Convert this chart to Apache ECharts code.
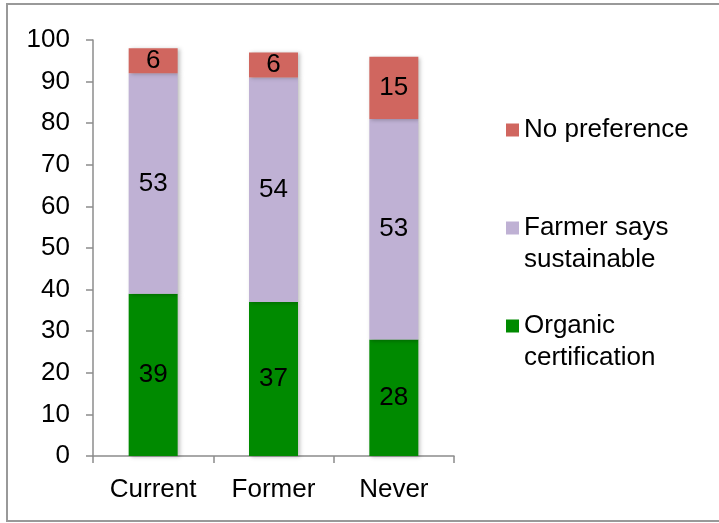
<!DOCTYPE html>
<html>
<head>
<meta charset="utf-8">
<script src="https://cdn.jsdelivr.net/npm/echarts@6/dist/echarts.min.js"></script>
<style>
    html, body { margin: 0; padding: 0; background: #fff; }
    #chart { width: 719px; height: 523px; }
</style>
</head>
<body>
<div id="chart"></div>
<script>
    // 分类与数值
    var categories = ['Current', 'Former', 'Never'];
    var organicList = [39, 37, 28];
    var farmerList = [53, 54, 53];
    var noPrefList = [6, 6, 15];
    var yTicks = [0, 10, 20, 30, 40, 50, 60, 70, 80, 90, 100];

    var font = '"Liberation Sans", Arial, sans-serif';
    var chart = echarts.init(document.getElementById('chart'));

    // 图例名称换行
    var legendText = {
        'No preference': ' \nNo preference\n ',
        'Farmer says sustainable': ' \nFarmer says\nsustainable',
        'Organic certification': ' \nOrganic\ncertification'
    };

    function makeSeries(name, color, list) {
        return {
            name: name,
            type: 'bar',
            stack: 'total',
            barWidth: 49,
            data: list,
            itemStyle: {
                color: color,
                shadowColor: 'rgba(0,0,0,0.25)',
                shadowBlur: 4,
                shadowOffsetX: 2,
                shadowOffsetY: 1
            },
            label: {
                show: true,
                position: 'inside',
                color: '#000',
                fontSize: 26,
                fontFamily: font
            }
        };
    }

    var option = {
        animation: false,
        backgroundColor: '#fff',
        grid: {
            left: 93,
            right: 265,
            top: 40,
            bottom: 67
        },
        legend: {
            orient: 'vertical',
            left: 506,
            top: 82,
            padding: 0,
            itemGap: 2,
            itemWidth: 13,
            itemHeight: 13,
            icon: 'rect',
            data: ['No preference', 'Farmer says sustainable', 'Organic certification'],
            formatter: function (name) {
                return legendText[name];
            },
            textStyle: {
                fontSize: 26,
                lineHeight: 32,
                color: '#000',
                fontFamily: font
            }
        },
        xAxis: {
            type: 'category',
            data: categories,
            axisLine: { lineStyle: { color: '#8c8c8c', width: 1.5 } },
            axisTick: { show: true, length: 7, lineStyle: { color: '#8c8c8c', width: 1.5 } },
            axisLabel: {
                margin: 21,
                color: '#000',
                fontSize: 26,
                fontFamily: font
            }
        },
        yAxis: {
            type: 'value',
            min: 0,
            max: 100,
            interval: 10,
            splitLine: { show: false },
            axisLine: { show: true, lineStyle: { color: '#8c8c8c', width: 1.5 } },
            axisTick: { show: true, length: 7, lineStyle: { color: '#8c8c8c', width: 1.5 } },
            axisLabel: {
                margin: 23,
                color: '#000',
                fontSize: 26,
                fontFamily: font,
                formatter: function (v) {
                    return yTicks.indexOf(v) >= 0 ? String(v) : '';
                }
            }
        },
        series: [
            makeSeries('Organic certification', '#008a00', organicList),
            makeSeries('Farmer says sustainable', '#bfb1d4', farmerList),
            makeSeries('No preference', '#d0665f', noPrefList)
        ],
        graphic: [
            {
                type: 'rect',
                shape: { x: 7, y: 4, width: 800, height: 517 },
                style: { fill: 'none', stroke: '#999', lineWidth: 2 },
                silent: true
            }
        ]
    };

    chart.setOption(option);
</script>
</body>
</html>
